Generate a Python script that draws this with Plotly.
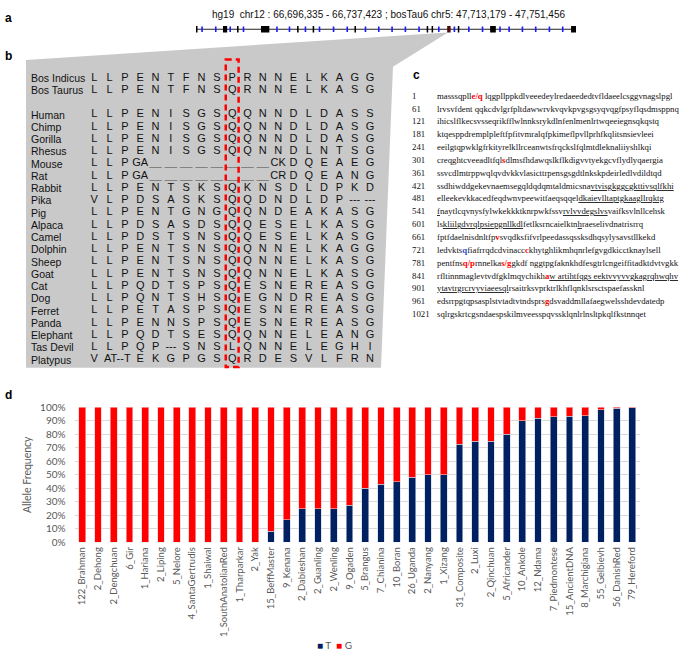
import plotly.graph_objects as go

# ==========================================
# DATA
# ==========================================

# --- panel a: gene track (positions as fraction of the gene span) ---
TRACK_TITLE = "hg19  chr12 : 66,696,335 - 66,737,423 ; bosTau6 chr5: 47,713,179 - 47,751,456"
EXON_START = [0.0, 0.071, 0.108, 0.171, 0.266, 0.307, 0.417, 0.607, 0.620, 0.661, 0.689, 0.774, 0.987]
EXON_END = [0.004, 0.082, 0.112, 0.193, 0.270, 0.311, 0.421, 0.611, 0.624, 0.670, 0.693, 0.789, 1.0]
VARIANT_EXON = 9
STRAND_MARKS = [0.016, 0.052, 0.090, 0.125, 0.213, 0.246, 0.288, 0.325, 0.362, 0.398,
                0.446, 0.481, 0.516, 0.551, 0.587, 0.639, 0.680, 0.718, 0.754, 0.800,
                0.824, 0.859, 0.894, 0.930, 0.965]

# --- panel b: alignment ("." = token continues over that column) ---
ROW_NAMES = ["Bos Indicus", "Bos Taurus", "", "Human", "Chimp", "Gorilla", "Rhesus",
             "Mouse", "Rat", "Rabbit", "Pika", "Pig", "Alpaca", "Camel", "Dolphin",
             "Sheep", "Goat", "Cat", "Dog", "Ferret", "Panda", "Elephant", "Tas Devil",
             "Platypus"]
ALIGNMENT = {
    "Bos Indicus": "L L P E N T F N S P R N N E L K A G G",
    "Bos Taurus": "L L P E N T F N S Q R N N E L K A S G",
    "Human": "L L P E N I S G S Q Q N N D L D A S S",
    "Chimp": "L L P E N I S G S Q Q N N D L D A S G",
    "Gorilla": "L L P E N I S G S Q Q N N D L D A S G",
    "Rhesus": "L L P E N I S G S Q Q N N D L N T S G",
    "Mouse": "L L P GA _ _ _ _ _ _ _ _ CK D Q E A E G",
    "Rat": "L L P GA _ _ _ _ _ _ _ _ CR D Q E A N G",
    "Rabbit": "L L P E N T S K S Q K N S D L D P K D",
    "Pika": "V L P D S A S K S Q Q D N D L D P --- ---",
    "Pig": "L L P E N T G N G Q Q N D E A K A S G",
    "Alpaca": "L L P D S A S D S Q Q E S E L K A S G",
    "Camel": "L L P D S T S N S Q Q E S E L K A S G",
    "Dolphin": "L L P E N T S N S Q Q N N E L K A G G",
    "Sheep": "L L P E N T S N S Q Q N N E L K A S G",
    "Goat": "L L P E N T S N S Q Q N N E L K A S G",
    "Cat": "L L P Q D T S P S Q E S N E R E A S G",
    "Dog": "L L P Q N T S H S Q E G N D R E A S G",
    "Ferret": "L L P E T A S P S Q E S N E R E A S G",
    "Panda": "L L P E N N S P S Q E S N E R E A S G",
    "Elephant": "L L P Q D T S E S Q Q N N E L E A N G",
    "Tas Devil": "L L P Q P --- S N S L Q N N E L E G H I",
    "Platypus": "V AT--T . E K G P G S Q R D E S V L F R N",
}
HIGHLIGHT_COL = 9

# --- panel c: protein sequence ---
def red(s):
    return f"<span style='color:#ff0000'><b>{s}</b></span>"

def blue(s):
    return f"<span style='color:#3050d0'><b>{s}</b></span>"

def ul(s):
    return f"<span style='text-decoration:underline'>{s}</span>"

SEQ_START = [1, 61, 121, 181, 241, 301, 361, 421, 481, 541, 601, 661, 721, 781, 841, 901, 961, 1021]
SEQ_LINES = [
    "masssqpll" + red("e/q") + " lqgpllppkdlveeedeylredaeededtvfldaeelcsggvnagslpgl",
    "lrvsvfdent qqkcdvlgrfpltdawwrvkvqvkpvgsgsyqvqgfpsyflqsdmsppnq",
    "ihicslflkecsvsseqrikfflwlnnksrykdlnfenlmenlrtwqeeiegnsqkqstq",
    "ktqesppdremplpleftfpfitvmralqfpkimeflpvllprhfkqlitsnsievleei",
    "eeilgtqpwklgfrkityrelkllrceanwtsfrqckslfqlmtdleknaliiyshlkqi",
    "creqghtcveeadltfql" + red("s") + "dlmsfhdawqslkflkdigvvtyekgcvflydlyqaergia",
    "ssvcdlmtrppwqlqvdvkkvlasicttrpensgsgdtlnkskpdeirledlvdildtqd",
    "ssdhiwddgekevnaemsegqldqdqmtaldmicsna" + ul("vtvisgkggcgkttivsqlfkhi"),
    "elleekevkkacedfeqdwnvpeewitfaeqsqqel" + ul("dkaievlltaptgkaagllrqktg"),
    ul("f") + "naytlcqvnysfylwkekkktknrpwkfssv" + ul("rvlvvdegslvs") + "vaifksvlnllcehsk",
    "ls" + ul("kliilgdvrqlpsiepgnllkdl") + "fetlksrncaielktn" + ul("h") + "raeselivdnatrisrrq",
    "fptfdaelnisdnltfp" + red("v") + "svqdksfifvrlpeedassqssksdhqsylysavstllkekd",
    "ledvkts" + blue("q") + "fiafrrqdcdvinacc" + red("c") + "khytghlikmhqnrlefgvgdkicctknaylsell",
    "pentfns" + red("q/p") + "rnnelka" + red("s/g") + "gkdf nggtpgfaknkhdfesgtrlcngeiffitadktdvtvgkk",
    "rfltinnmaglevtvdfgklmqychikh" + red("a") + ul("w artihtfqgs eektvvyvvgkagrqhwqhv"),
    ul("ytavtrgrcrvyviaeesql") + "rsaitrksvprktrlkhflqnklsrsctspaefassknl",
    "edsrrpgtqpsasplstvtadtvtndsprs" + red("g") + "dsvaddmllafaegwelsshdevdatedp",
    "sqlrgskrtcgsndaespskilmveesspqvssklqnlrlnsltpkqlfkstnnqet",
]

# --- panel d: allele frequencies ---
BREEDS = ["122_Brahman", "2_Dehong", "2_Dengchuan", "6_Gir", "1_Hariana", "2_Liping",
          "5_Nelore", "4_SantaGertrudis", "1_Shaiwal", "1_SouthAnatolianRed",
          "1_Tharparkar", "2_Yak", "15_BeffMaster", "9_Kenana", "2_Dabieshan",
          "2_Guanling", "2_Wenling", "9_Ogaden", "5_Brangus", "7_Chianina", "10_Boran",
          "26_Uganda", "2_Nanyang", "1_Xizang", "31_Composite", "2_Luxi", "2_Qinchuan",
          "5_Africander", "10_Ankole", "12_Ndama", "7_Piedmontese", "15_AncientDNA",
          "8_Marchigiana", "55_Gelbievh", "56_DanishRed", "79_Hereford"]
T_FREQ = [0.0, 0.0, 0.0, 0.0, 0.0, 0.0, 0.0, 0.0, 0.0, 0.0, 0.0, 0.0,
          0.08, 0.165, 0.25, 0.25, 0.25, 0.275, 0.40, 0.43, 0.45, 0.48, 0.50, 0.50,
          0.725, 0.75, 0.75, 0.80, 0.90, 0.917, 0.929, 0.933, 0.938, 0.981, 0.991, 0.995]
G_FREQ = [1.0, 1.0, 1.0, 1.0, 1.0, 1.0, 1.0, 1.0, 1.0, 1.0, 1.0, 1.0,
          0.92, 0.835, 0.75, 0.75, 0.75, 0.725, 0.60, 0.57, 0.55, 0.52, 0.50, 0.50,
          0.275, 0.25, 0.25, 0.20, 0.10, 0.083, 0.071, 0.067, 0.062, 0.019, 0.009, 0.005]

# ==========================================
# LAYOUT HELPERS (pixel -> paper)
# ==========================================
W, H = 685, 661


def px(x):
    return x / W


def py(y):
    return 1 - y / H


ARIAL = "Liberation Sans, Arial, sans-serif"
NARROW = "Liberation Sans Narrow, Arial Narrow, Liberation Sans, sans-serif"
SERIF = "Liberation Serif, Times New Roman, serif"
CALIBRI = "Lato, Carlito, Calibri, sans-serif"
NAVY = "#002060"
RED = "#ff0000"

fig = go.Figure()
shapes = []
annotations = []

# ==========================================
# 1. PANEL D - stacked bars
# ==========================================
fig.add_trace(go.Bar(x=BREEDS, y=T_FREQ, name="T", marker=dict(color=NAVY, line=dict(color="#c9d3ea", width=0.6)),
                     showlegend=False))
fig.add_trace(go.Bar(x=BREEDS, y=G_FREQ, name="G", marker=dict(color=RED, line=dict(color="#f2c9c9", width=0.6)),
                     showlegend=False))

# ==========================================
# 2. PANEL B - alignment letters
# ==========================================
ax, ay, at, ac = [], [], [], []
for r, name in enumerate(ROW_NAMES):
    if not name:
        continue
    toks = ALIGNMENT[name].split(" ")
    i = 0
    while i < len(toks):
        j = i + 1
        while j < len(toks) and toks[j] == ".":
            j += 1
        tok = toks[i]
        if tok == "_":
            at.append("__")
            ac.append("#6f6f6f")
        else:
            at.append(tok)
            ac.append("#111111")
        ax.append((i + j - 1) / 2)
        ay.append(r)
        i = j
    annotations.append(dict(x=px(29), y=r, xref="paper", yref="y2", text=name, showarrow=False,
                            xanchor="left", yanchor="middle", font=dict(family=ARIAL, size=10.5, color="#111")))

fig.add_trace(go.Scatter(x=ax, y=ay, mode="text", text=at, textfont=dict(family=ARIAL, size=11, color=ac),
                         xaxis="x2", yaxis="y2", showlegend=False, hoverinfo="skip", cliponaxis=False))

# grey zoom wedge behind the alignment
wedge = [(26, 54), (448, 26), (393, 61), (381, 368), (26, 368)]
shapes.append(dict(type="path", xref="paper", yref="paper", layer="below", line=dict(width=0),
                   fillcolor="#c9c9c9",
                   path="M " + " L ".join(f"{px(x):.4f},{py(y):.4f}" for x, y in wedge) + " Z"))

# red dashed box around the variant column
shapes.append(dict(type="rect", xref="x2", yref="y2", x0=HIGHLIGHT_COL - 0.42, x1=HIGHLIGHT_COL + 0.42,
                   y0=-1.5, y1=23.6, line=dict(color=RED, width=2.5, dash="6px,4px"), layer="above"))

# ==========================================
# 3. PANEL A - gene track
# ==========================================
fig.add_trace(go.Scatter(x=[0, 1], y=[0, 0], mode="lines", line=dict(color="#222", width=1),
                         xaxis="x3", yaxis="y3", showlegend=False, hoverinfo="skip"))
fig.add_trace(go.Scatter(x=STRAND_MARKS, y=[0] * len(STRAND_MARKS), mode="markers",
                         marker=dict(symbol="line-ns", size=4, line=dict(color="#1a1aff", width=1.6)),
                         xaxis="x3", yaxis="y3", showlegend=False, hoverinfo="skip"))
for k, (s, e) in enumerate(zip(EXON_START, EXON_END)):
    col = "#4a0a0a" if k == VARIANT_EXON else "#000000"
    shapes.append(dict(type="rect", xref="x3", yref="y3", x0=s, x1=e, y0=-0.42, y1=0.42,
                       fillcolor=col, line=dict(width=0)))

annotations.append(dict(x=px(388), y=py(8), xref="paper", yref="paper", text=TRACK_TITLE, showarrow=False,
                        xanchor="center", yanchor="middle", font=dict(family=NARROW, size=10, color="#111")))

# ==========================================
# 4. PANEL C - sequence text
# ==========================================
y0c, dyc = 90.5, 13.1
for k, (start, line) in enumerate(zip(SEQ_START, SEQ_LINES)):
    yy = py(y0c + k * dyc)
    annotations.append(dict(x=px(410), y=yy, xref="paper", yref="paper", text=str(start), showarrow=False,
                            xanchor="left", yanchor="middle", font=dict(family=SERIF, size=8.75, color="#111")))
    annotations.append(dict(x=px(435), y=yy, xref="paper", yref="paper", text=line, showarrow=False,
                            xanchor="left", yanchor="middle", font=dict(family=SERIF, size=8.75, color="#111")))

# panel letters
for lab, x, y in [("a", 3, 11), ("b", 3, 50), ("c", 411, 69), ("d", 3, 396)]:
    annotations.append(dict(x=px(x), y=py(y), xref="paper", yref="paper", text=f"<b>{lab}</b>",
                            showarrow=False, xanchor="left", yanchor="middle",
                            font=dict(family=ARIAL, size=12, color="#000")))

# legend for panel d
annotations.append(dict(x=px(334), y=py(651), xref="paper", yref="paper", showarrow=False,
                        xanchor="center", yanchor="middle",
                        text=f"<span style='color:{NAVY}'>■</span> T  <span style='color:{RED}'>■</span> G",
                        font=dict(family=CALIBRI, size=10, color="#595959")))

# ==========================================
# 5. AXES
# ==========================================
col_first, col_step = 94.3, 15.32
row_first, row_step = 72.3, 12.5

fig.update_layout(
    width=W, height=H,
    margin=dict(l=0, r=0, t=0, b=0),
    paper_bgcolor="white", plot_bgcolor="rgba(0,0,0,0)",
    barmode="stack", bargap=0.57,
    font=dict(family=ARIAL),
    xaxis=dict(domain=[px(74.5), px(640.2)], range=[-0.5, len(BREEDS) - 0.5], tickangle=-90,
               tickfont=dict(family=CALIBRI, size=9.5, color="#595959"), showgrid=False,
               showline=False, ticks="", ticklabelstandoff=2),
    yaxis=dict(domain=[py(546), py(408.3)], range=[0, 1], dtick=0.1, tickformat=".0%",
               tickfont=dict(family=CALIBRI, size=10, color="#595959"), gridcolor="#d9d9d9",
               gridwidth=1, zeroline=False, showline=False, ticks="", ticklabelstandoff=8,
               title=dict(text="Allele Frequency", font=dict(family=CALIBRI, size=10.5, color="#595959"),
                          standoff=6)),
    xaxis2=dict(domain=[px(col_first - col_step / 2), px(col_first + 18 * col_step + col_step / 2)],
                range=[-0.5, 18.5], visible=False, anchor="y2"),
    yaxis2=dict(domain=[py(row_first + 24 * row_step), py(row_first - 2 * row_step)],
                range=[24, -2], visible=False, anchor="x2"),
    xaxis3=dict(domain=[px(196), px(576)], range=[0, 1], visible=False, anchor="y3"),
    yaxis3=dict(domain=[py(30.7), py(14.7)], range=[-1, 1], visible=False, anchor="x3"),
    shapes=shapes,
    annotations=annotations,
    showlegend=False,
)

fig.write_html("out.html", config={"displayModeBar": False},
               post_script="document.body.style.margin='0px';")
